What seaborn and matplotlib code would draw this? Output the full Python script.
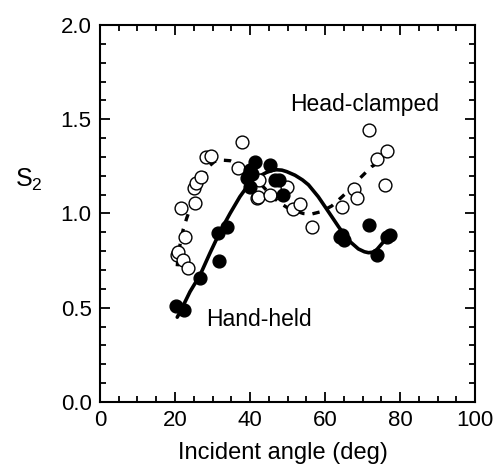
import matplotlib
matplotlib.use("Agg")
import matplotlib.pyplot as plt
from matplotlib.ticker import MultipleLocator
import seaborn as sns
import pandas as pd

# Hand-held measurements (filled symbols)
hand_angle = [20.3, 22.5, 26.7, 31.4, 33.8, 31.7, 39.1, 40.0, 40.0, 40.6, 41.3,
              45.3, 46.7, 47.6, 48.9, 64.4, 65.0, 64.0, 71.6, 73.8, 76.4, 77.3]
hand_s2 = [0.509, 0.488, 0.66, 0.898, 0.927, 0.75, 1.187, 1.142, 1.231, 1.21, 1.275,
           1.257, 1.178, 1.178, 1.098, 0.886, 0.859, 0.875, 0.939, 0.78, 0.877, 0.886]

# Head-clamped measurements (open symbols)
head_angle = [20.6, 20.9, 22.2, 23.4, 22.7, 21.5, 25.2, 25.1, 25.6, 26.9, 28.3,
              29.5, 37.8, 36.7, 42.5, 41.8, 42.2, 45.3, 49.8, 51.4, 53.3, 56.4,
              64.4, 67.6, 68.6, 71.8, 73.9, 76.6, 76.0]
head_s2 = [0.78, 0.797, 0.753, 0.712, 0.877, 1.028, 1.054, 1.134, 1.163, 1.195, 1.301,
           1.305, 1.381, 1.243, 1.178, 1.081, 1.089, 1.098, 1.142, 1.025, 1.052, 0.927,
           1.036, 1.128, 1.081, 1.443, 1.287, 1.333, 1.151]

# Smooth trend curves through each set
hand_fit_angle = [20.6, 21.3, 24.0, 26.7, 29.3, 32.0, 34.7, 37.3, 39.5, 41.0, 42.7,
                  44.4, 46.0, 47.1, 48.5, 49.8, 52.0, 54.0, 55.6, 58.2, 60.9, 63.6,
                  66.2, 68.9, 70.5, 71.6, 72.8, 73.8, 76.0, 77.3]
hand_fit_s2 = [0.45, 0.475, 0.585, 0.674, 0.789, 0.903, 1.001, 1.089, 1.150, 1.178, 1.200,
               1.218, 1.229, 1.232, 1.230, 1.222, 1.203, 1.178, 1.152, 1.089, 1.010, 0.930,
               0.859, 0.812, 0.797, 0.792, 0.795, 0.808, 0.859, 0.903]

head_fit_angle = [20.6, 20.9, 21.6, 22.2, 23.1, 24.2, 25.6, 27.1, 28.9, 30.5, 32.0,
                  34.7, 37.3, 40.0, 42.7, 45.0, 47.5, 50.0, 52.0, 54.2, 56.4, 59.0,
                  61.8, 64.4, 67.0, 69.3, 72.4, 75.5]
head_fit_s2 = [0.72, 0.789, 0.86, 0.916, 0.974, 1.036, 1.098, 1.178, 1.248, 1.275, 1.284,
               1.280, 1.257, 1.220, 1.160, 1.110, 1.063, 1.030, 1.015, 1.000, 0.997, 1.010,
               1.040, 1.086, 1.135, 1.187, 1.248, 1.287]

hand = pd.DataFrame({"angle": hand_angle, "s2": hand_s2})
head = pd.DataFrame({"angle": head_angle, "s2": head_s2})
hand_fit = pd.DataFrame({"angle": hand_fit_angle, "s2": hand_fit_s2})
head_fit = pd.DataFrame({"angle": head_fit_angle, "s2": head_fit_s2})

sns.set_style("ticks")
plt.rcParams["font.family"] = ["Liberation Sans", "DejaVu Sans"]
plt.rcParams["text.color"] = "black"
plt.rcParams["axes.labelcolor"] = "black"

fig = plt.figure(figsize=(4.96, 4.70), dpi=100)
ax = fig.add_axes([0.2016, 0.1447, 0.7561, 0.8021])

sns.lineplot(data=head_fit, x="angle", y="s2", sort=False, estimator=None, ax=ax,
             color="black", lw=2.4, linestyle=(0, (2.2, 2.4)), zorder=2)
sns.lineplot(data=hand_fit, x="angle", y="s2", sort=False, estimator=None, ax=ax,
             color="black", lw=2.6, zorder=2)

sns.scatterplot(data=head, x="angle", y="s2", ax=ax, s=85, marker="o",
                facecolor="white", edgecolor="black", linewidth=1.0, zorder=3)
sns.scatterplot(data=hand, x="angle", y="s2", ax=ax, s=85, marker="o",
                color="black", edgecolor="black", linewidth=1.0, zorder=4)

ax.set_xlim(0, 100)
ax.set_ylim(0, 2.0)
ax.xaxis.set_major_locator(MultipleLocator(20))
ax.xaxis.set_minor_locator(MultipleLocator(5))
ax.yaxis.set_major_locator(MultipleLocator(0.5))
ax.yaxis.set_minor_locator(MultipleLocator(0.1))
ax.yaxis.set_major_formatter(plt.FuncFormatter(lambda v, p: f"{v:.1f}"))
ax.tick_params(which="both", direction="in", top=True, right=True, width=1.3,
               colors="black", labelsize=16)
ax.tick_params(which="major", length=7, pad=6)
ax.tick_params(which="minor", length=4)
for sp in ax.spines.values():
    sp.set_linewidth(1.5)
    sp.set_color("black")

ax.set_xlabel("Incident angle (deg)", fontsize=17)
ax.xaxis.set_label_coords(0.489, -0.105)
ax.set_ylabel("")
fig.text(0.058, 0.617, r"S$_\mathregular{2}$", fontsize=18, ha="center", va="center")

ax.text(50.7, 1.576, "Head-clamped", fontsize=16.5, ha="left", va="center")
ax.text(28.3, 0.435, "Hand-held", fontsize=16.5, ha="left", va="center")

fig.savefig("out.png", dpi=100)
